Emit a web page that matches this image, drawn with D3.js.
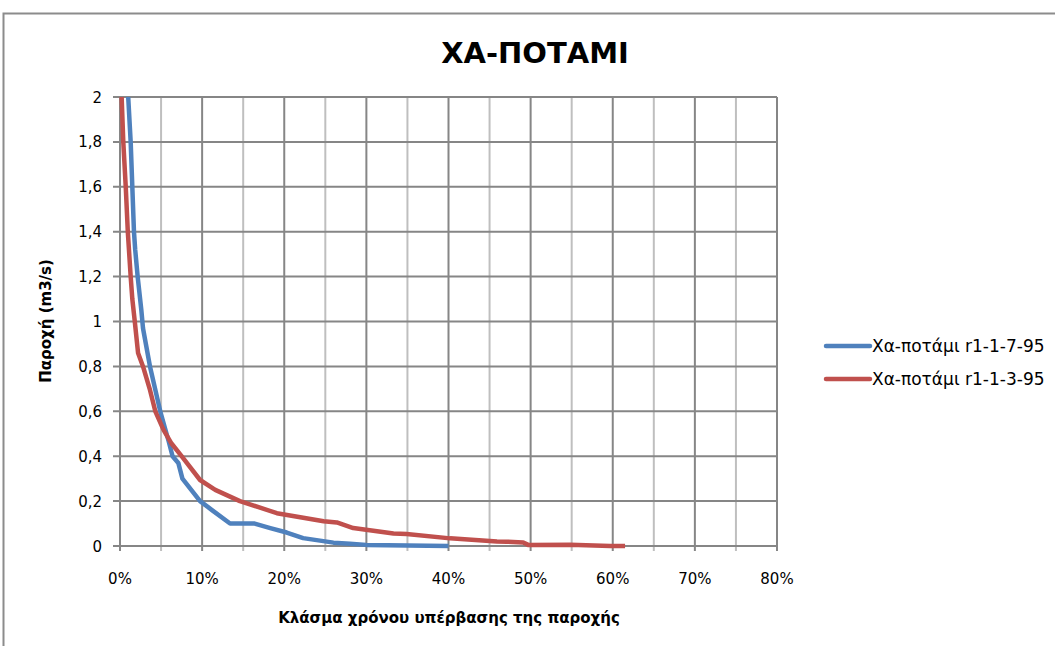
<!DOCTYPE html>
<html><head><meta charset="utf-8">
<script src="https://cdn.jsdelivr.net/npm/d3@7"></script>
<style>body{margin:0;background:#fff}svg{display:block}text{font-family:"DejaVu Sans",sans-serif}</style>
</head><body><svg id="c" width="1055" height="646"></svg>
<script>
const title = "ΧΑ-ΠΟΤΑΜΙ";
const xTitle = "Κλάσμα χρόνου υπέρβασης της παροχής";
const yTitle = "Παροχή (m3/s)";
const seriesNames = ["Χα-ποτάμι r1-1-7-95", "Χα-ποτάμι r1-1-3-95"];
const seriesColors = ["#4F81BD", "#C0504D"];
const xTicks = [0, 0.1, 0.2, 0.3, 0.4, 0.5, 0.6, 0.7, 0.8];
const yTicks = [0, 0.2, 0.4, 0.6, 0.8, 1.0, 1.2, 1.4, 1.6, 1.8, 2.0];
// exceedance fraction (%) and flow (m3/s)
const blueX = [1.0, 1.3, 1.7, 1.85, 2.15, 2.6, 2.8, 3.65, 4.9, 5.9, 6.4, 7.1, 7.6, 9.75, 11.2, 13.4, 16.4, 18.3, 20.3, 22.3, 26, 28, 30, 40];
const blueY = [2.0, 1.8, 1.4, 1.32, 1.2, 1.05, 0.97, 0.8, 0.6, 0.47, 0.4, 0.37, 0.30, 0.2, 0.16, 0.10, 0.10, 0.08, 0.06, 0.035, 0.015, 0.01, 0.005, 0];
const redX = [0.2, 0.4, 0.7, 0.95, 1.3, 1.5, 1.8, 2.2, 2.8, 3.65, 4.3, 5.3, 6.2, 7.5, 9.75, 11.6, 14.6, 19.1, 24.8, 26.4, 28.4, 33.3, 34.9, 40.2, 45.9, 47.1, 49.1, 49.7, 54.8, 59.7, 61.5];
const redY = [2.0, 1.8, 1.6, 1.4, 1.2, 1.1, 1.0, 0.86, 0.8, 0.695, 0.6, 0.517, 0.46, 0.4, 0.294, 0.25, 0.2, 0.146, 0.11, 0.105, 0.08, 0.056, 0.053, 0.034, 0.02, 0.019, 0.016, 0.005, 0.006, 0, 0];

const svg = d3.select("#c");
const L = 120, R = 777, T = 97, B = 546;
const x = d3.scaleLinear().domain([0, 0.8]).range([L, R]);
const y = d3.scaleLinear().domain([0, 2]).range([B, T]);

// outer border
svg.append("rect").attr("x", 3.5).attr("y", 13.5).attr("width", 1060).attr("height", 650)
  .attr("fill", "none").attr("stroke", "#8c8c8c").attr("stroke-width", 2);

// minor vertical grid (5%)
const minor = d3.range(0.05, 0.8, 0.1);
svg.append("g").selectAll("line").data(minor).join("line")
  .attr("x1", d => x(d)).attr("x2", d => x(d)).attr("y1", T).attr("y2", B + 5)
  .attr("stroke", "#bfbfbf").attr("stroke-width", 2);
// major vertical grid
svg.append("g").selectAll("line").data(xTicks).join("line")
  .attr("x1", d => x(d)).attr("x2", d => x(d)).attr("y1", T).attr("y2", B + 5)
  .attr("stroke", "#868686").attr("stroke-width", 2);
// horizontal grid
svg.append("g").selectAll("line").data(yTicks).join("line")
  .attr("x1", L - 7).attr("x2", R).attr("y1", d => y(d)).attr("y2", d => y(d))
  .attr("stroke", "#868686").attr("stroke-width", 2);

// axis labels
const fmtY = d => d3.format(".1~f")(d).replace(".", ",");
svg.append("g").selectAll("text").data(yTicks).join("text")
  .attr("x", 102).attr("y", d => y(d) + 5.5).attr("text-anchor", "end")
  .attr("font-size", 15).attr("fill", "#000").text(fmtY);
svg.append("g").selectAll("text").data(xTicks).join("text")
  .attr("x", d => x(d)).attr("y", 584).attr("text-anchor", "middle")
  .attr("font-size", 15).attr("fill", "#000").text(d => d3.format(".0%")(d));

// lines
const line = d3.line().x(d => x(d[0] / 100)).y(d => y(d[1]));
const series = [d3.zip(blueX, blueY), d3.zip(redX, redY)];
svg.append("g").selectAll("path").data(series).join("path")
  .attr("d", line).attr("fill", "none")
  .attr("stroke", (d, i) => seriesColors[i]).attr("stroke-width", 4.5)
  .attr("stroke-linejoin", "round");

// titles
svg.append("text").attr("x", 535).attr("y", 63).attr("text-anchor", "middle")
  .attr("font-size", 29).attr("font-weight", "bold").text(title);
svg.append("text").attr("x", 449).attr("y", 623).attr("text-anchor", "middle")
  .attr("font-size", 15).attr("font-weight", "bold").text(xTitle);
svg.append("text").attr("transform", "translate(51,321) rotate(-90)").attr("text-anchor", "middle")
  .attr("font-size", 15).attr("font-weight", "bold").text(yTitle);

// legend
const lg = svg.append("g").selectAll("g").data(seriesNames).join("g")
  .attr("transform", (d, i) => `translate(826,${346 + i * 33})`);
lg.append("line").attr("x1", 0).attr("x2", 44).attr("stroke", (d, i) => seriesColors[i])
  .attr("stroke-width", 4.5).attr("stroke-linecap", "round");
lg.append("text").attr("x", 46).attr("y", 6).attr("font-size", 17).text(d => d);
</script></body></html>
